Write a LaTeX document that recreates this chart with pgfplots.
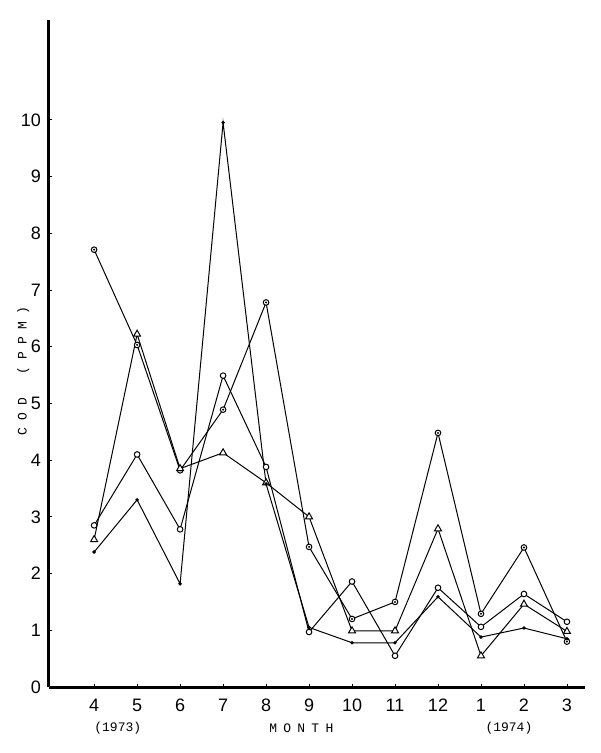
\documentclass[border=0pt]{standalone}
\usepackage{pgfplots}
\pgfplotsset{compat=1.18}
\usepackage{fontspec}
\setmainfont{Liberation Sans}
\setmonofont{Liberation Mono}
\pgfdeclareplotmark{odot}{%
  \pgfpathcircle{\pgfpointorigin}{\pgfplotmarksize}\pgfusepathqfillstroke
  \begin{pgfscope}
  \pgfsetfillcolor{black}%
  \pgfpathcircle{\pgfpointorigin}{0.4\pgfplotmarksize}\pgfusepathqfill
  \end{pgfscope}}
\begin{document}
\begin{tikzpicture}
\useasboundingbox (-24.5pt,-33pt) rectangle (275.5pt,343.5pt);
\begin{axis}[
  scale only axis, width=268pt, height=333.5pt,
  xmin=-1.05, xmax=11.42, ymin=0, ymax=11.76,
  axis lines=left, axis line style={line width=1.5pt, -},
  clip=false,
  xtick={0,...,11}, xticklabels={4,5,6,7,8,9,10,11,12,1,2,3},
  ytick={0,...,10},
  tick align=inside, major tick length=1.5pt,
  tick style={line width=0.4pt, black},
  ticklabel style={font=\fontsize{9}{10}\selectfont},
  /pgf/number format/assume math mode=true,
  xticklabel style={yshift=-2.5pt},
  yticklabel style={xshift=-0.5pt},
  every axis plot/.append style={black, line width=0.5pt},
]
% circle with dot
\addplot[mark=odot, mark size=1.4pt, mark options={fill=white, line width=0.5pt}] coordinates {
(0,7.71) (1,6.03) (2,3.82) (3,4.89) (4,6.78) (5,2.47) (6,1.20) (7,1.50) (8,4.48) (9,1.29) (10,2.46) (11,0.80)};
% open circle
\addplot[mark=*, mark size=1.4pt, mark options={fill=white, line width=0.5pt}] coordinates {
(0,2.85) (1,4.10) (2,2.78) (3,5.49) (4,3.88) (5,0.97) (6,1.86) (7,0.55) (8,1.75) (9,1.06) (10,1.64) (11,1.15)};
% triangle
\addplot[mark=triangle*, mark size=2pt, mark options={fill=white, line width=0.5pt}] coordinates {
(0,2.60) (1,6.22) (2,3.85) (3,4.13) (4,3.60) (5,3.00) (6,0.99) (7,0.99) (8,2.79) (9,0.55) (10,1.46) (11,0.98)};
% small dot
\addplot[mark=*, mark size=0.6pt] coordinates {
(0,2.38) (1,3.30) (2,1.82) (3,9.95) (4,3.58) (5,1.05) (6,0.78) (7,0.78) (8,1.59) (9,0.88) (10,1.04) (11,0.85)};
\node[rotate=90, font=\ttfamily\fontsize{6.5}{7}\selectfont] at (axis cs:-1.65,5.57) {\makebox[64pt][s]{C\hfill O\hfill D\hfill\ \hfill (\hfill P\hfill P\hfill M\hfill )}};
\node[font=\ttfamily\fontsize{6.5}{7}\selectfont] at (axis cs:0.55,-0.72) {(1973)};
\node[font=\ttfamily\fontsize{6.5}{7}\selectfont] at (axis cs:4.82,-0.72) {\makebox[32pt][s]{M\hfill O\hfill N\hfill T\hfill H}};
\node[font=\ttfamily\fontsize{6.5}{7}\selectfont] at (axis cs:9.65,-0.72) {(1974)};
\end{axis}
\end{tikzpicture}
\end{document}
